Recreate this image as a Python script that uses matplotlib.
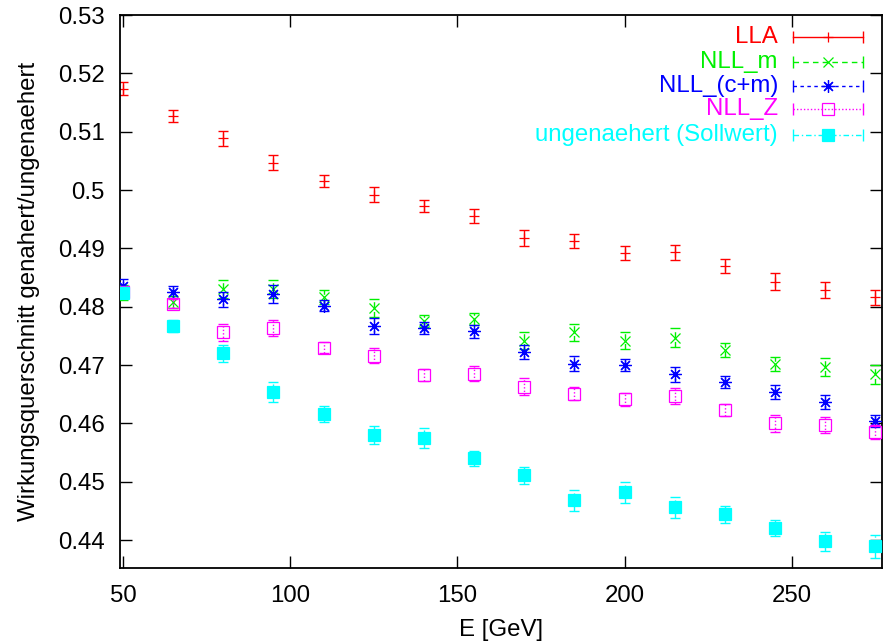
import numpy as np
import matplotlib.pyplot as plt
from matplotlib.lines import Line2D

plt.rcParams['font.family'] = ['Liberation Sans', 'DejaVu Sans']
plt.rcParams['font.size'] = 17.3

# Schwerpunktsenergie in GeV
energy = [50, 65, 80, 95, 110, 125, 140, 155, 170, 185, 200, 215, 230, 245, 260, 275]

lla = [0.5174, 0.5127, 0.5089, 0.5047, 0.5015, 0.4992, 0.4973, 0.4955,
       0.4918, 0.4913, 0.4892, 0.4893, 0.4870, 0.4843, 0.4829, 0.4816]
lla_err = [0.0011, 0.0010, 0.0013, 0.0013, 0.0010, 0.0013, 0.0010, 0.0012,
           0.0014, 0.0012, 0.0012, 0.0013, 0.0012, 0.0014, 0.0014, 0.0013]

nll_m = [0.4825, 0.4808, 0.4830, 0.4830, 0.4816, 0.4798, 0.4776, 0.4779,
         0.4742, 0.4756, 0.4742, 0.4747, 0.4726, 0.4702, 0.4697, 0.4684]
nll_m_err = [0.0013, 0.0011, 0.0015, 0.0015, 0.0012, 0.0015, 0.0010, 0.0011,
             0.0014, 0.0014, 0.0014, 0.0016, 0.0012, 0.0012, 0.0015, 0.0016]

nll_cm = [0.4836, 0.4825, 0.4813, 0.4822, 0.4802, 0.4767, 0.4763, 0.4758,
          0.4723, 0.4702, 0.4700, 0.4684, 0.4671, 0.4653, 0.4637, 0.4604]
nll_cm_err = [0.0011, 0.0010, 0.0013, 0.0015, 0.0010, 0.0014, 0.0010, 0.0011,
              0.0012, 0.0013, 0.0010, 0.0013, 0.0011, 0.0012, 0.0012, 0.0011]

nll_z = [0.4825, 0.4805, 0.4756, 0.4763, 0.4730, 0.4716, 0.4683, 0.4685,
         0.4663, 0.4651, 0.4641, 0.4647, 0.4623, 0.4600, 0.4597, 0.4585]
nll_z_err = [0.0009, 0.0008, 0.0015, 0.0014, 0.0010, 0.0013, 0.0011, 0.0013,
             0.0014, 0.0011, 0.0011, 0.0013, 0.0010, 0.0015, 0.0014, 0.0012]

sollwert = [0.4824, 0.4767, 0.4720, 0.4654, 0.4616, 0.4580, 0.4575, 0.4540,
            0.4511, 0.4468, 0.4482, 0.4456, 0.4444, 0.4421, 0.4398, 0.4389]
sollwert_err = [0.0009, 0.0010, 0.0015, 0.0017, 0.0013, 0.0016, 0.0017, 0.0013,
                0.0015, 0.0018, 0.0018, 0.0018, 0.0015, 0.0014, 0.0016, 0.0020]

labels = ['LLA', 'NLL_m', 'NLL_(c+m)', 'NLL_Z', 'ungenaehert (Sollwert)']
colors = ['#ff0000', '#00f000', '#0000ff', '#ff00ff', '#00ffff']
markers = ['+', 'x', (8, 2, 0), 's', 's']
msizes = [7.5, 7, 9, 8.4, 8]
mfaces = ['none', 'none', 'none', 'none', '#00ffff']
dashes = ['solid', (0, (4, 3)), (0, (2.5, 2.5)), (0, (1, 1.5)), (0, (4, 2, 1, 2))]

series = [(lla, lla_err), (nll_m, nll_m_err), (nll_cm, nll_cm_err),
          (nll_z, nll_z_err), (sollwert, sollwert_err)]

fig, ax = plt.subplots(figsize=(8.84, 6.44), dpi=100)
fig.subplots_adjust(left=0.1357, right=0.9977, top=0.9767, bottom=0.118)

for i, (vals, errs) in enumerate(series):
    cont = ax.errorbar(energy, vals, yerr=errs, fmt='none', ecolor=colors[i],
                       elinewidth=1.0, capsize=3.7, capthick=1.0, zorder=2 + i)
    cont[2][0].set_linestyle(dashes[i])
    ax.plot(energy, vals, linestyle='none', marker=markers[i], markersize=msizes[i],
            markeredgecolor=colors[i], markerfacecolor=mfaces[i],
            markeredgewidth=0.9, zorder=2 + i)

# Legende im gnuplot-Stil: Text rechtsbuendig, Linie mit Endstrichen
rows = [0.9608, 0.9156, 0.8722, 0.8295, 0.783]
x_text, x0, x1 = 0.8635, 0.883, 0.975
for i, lab in enumerate(labels):
    y = rows[i]
    ax.text(x_text, y, lab, color=colors[i], ha='right', va='center',
            transform=ax.transAxes)
    ax.add_line(Line2D([x0, x1], [y, y], transform=ax.transAxes, color=colors[i],
                       linewidth=1.0, linestyle=dashes[i]))
    ax.add_line(Line2D([x0, x1], [y, y], transform=ax.transAxes, color=colors[i],
                       linestyle='none', marker='|', markersize=9, markeredgewidth=1.0))
    ax.add_line(Line2D([(x0 + x1) / 2], [y], transform=ax.transAxes, color=colors[i],
                       linestyle='none', marker=markers[i], markersize=msizes[i],
                       markeredgecolor=colors[i], markerfacecolor=mfaces[i],
                       markeredgewidth=0.9))

ax.set_xlim(49.1, 277)
ax.set_ylim(0.4352, 0.53)
ax.set_xticks([50, 100, 150, 200, 250])
ax.set_yticks(np.arange(0.44, 0.5301, 0.01))
ax.set_yticklabels(['0.44', '0.45', '0.46', '0.47', '0.48', '0.49', '0.5',
                    '0.51', '0.52', '0.53'])
ax.tick_params(direction='in', length=8.5, width=1.0, top=True, right=True)
ax.tick_params(axis='y', pad=11)
ax.tick_params(axis='x', pad=12)
for sp in ax.spines.values():
    sp.set_linewidth(1.3)

ax.set_xlabel('E [GeV]', labelpad=9)
ax.set_ylabel('Wirkungsquerschnitt genahert/ungenaehert', labelpad=13)

fig.savefig('out.png', dpi=100)
